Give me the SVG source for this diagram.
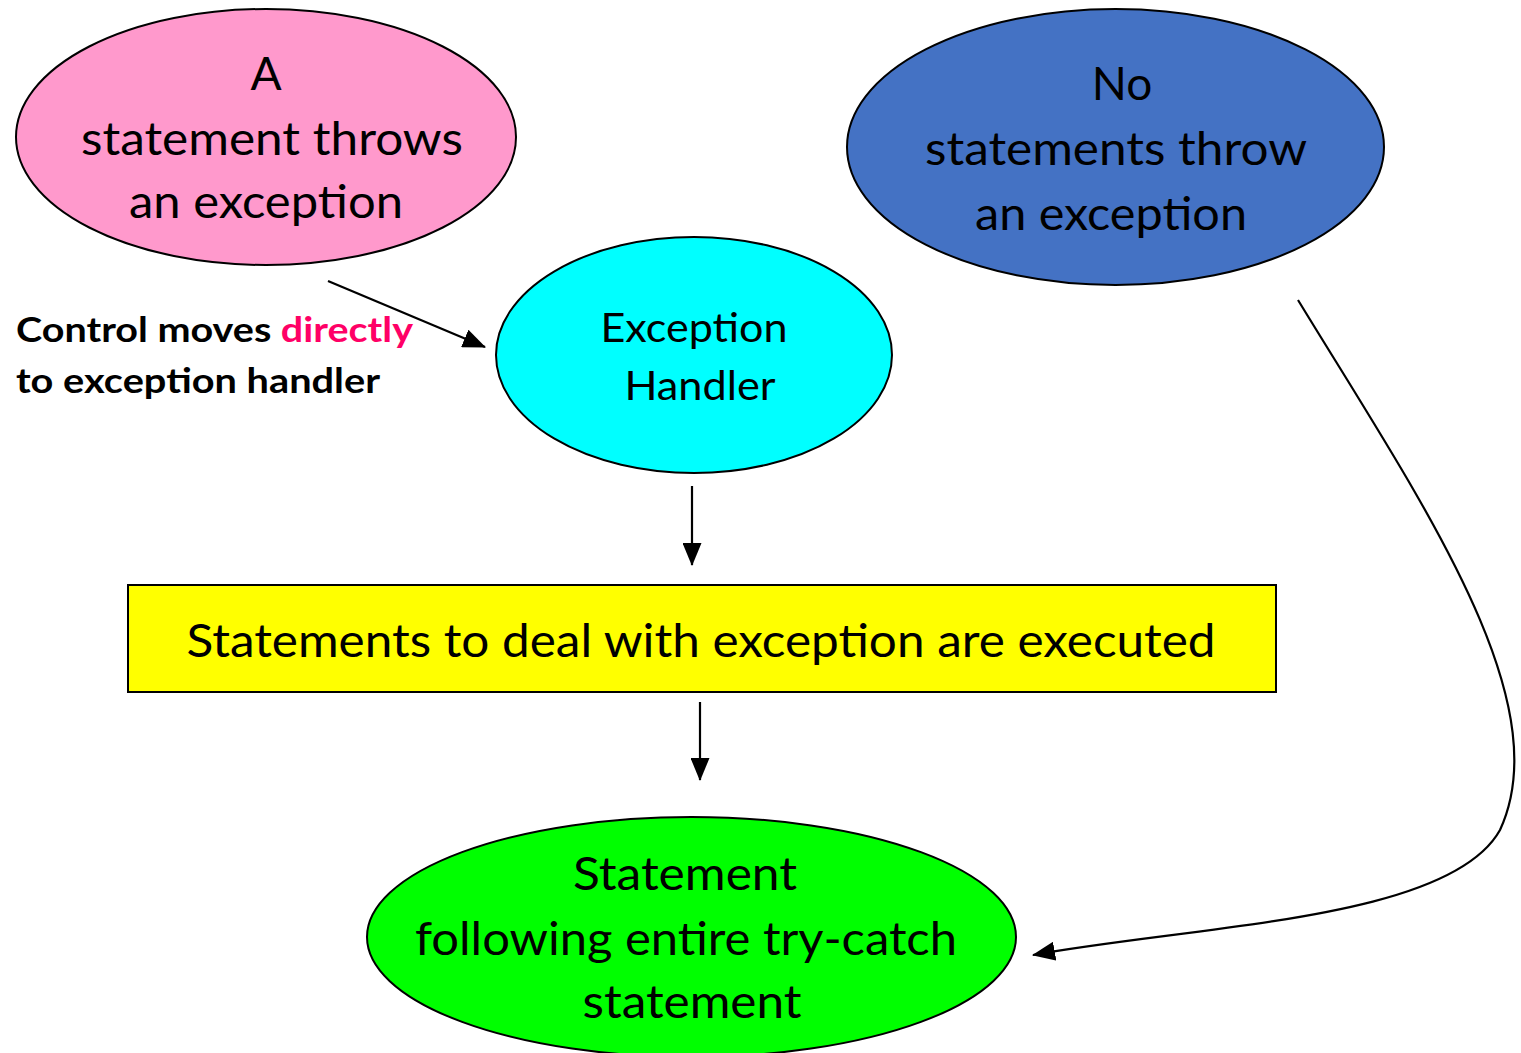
<svg xmlns="http://www.w3.org/2000/svg" width="1521" height="1053" viewBox="0 0 1521 1053">
<style>
.n{stroke:#000;stroke-width:2}
.t{font-family:Lato,"Open Sans","Liberation Sans",sans-serif;font-size:46px;fill:#000;text-anchor:middle}
.s{font-size:41px}
.b{font-family:Lato,"Open Sans","Liberation Sans",sans-serif;font-weight:bold;font-size:34px;fill:#000}
.c{fill:none;stroke:#000;stroke-width:2.2}
</style>
<defs>
<marker id="ah2" markerWidth="23" markerHeight="19" refX="22" refY="9.5" orient="auto" markerUnits="userSpaceOnUse" viewBox="0 0 23 19">
<path d="M0,0 L23,9.5 L0,19 z" fill="#000"/>
</marker>
</defs>
<rect width="1521" height="1053" fill="#fff"/>
<g id="throws">
<ellipse class="n" cx="266" cy="137" rx="250" ry="128" fill="#ff99cc"/>
<text class="t" x="266" y="90">A</text>
<text class="t" x="272" y="155" textLength="382" lengthAdjust="spacingAndGlyphs">statement throws</text>
<text class="t" x="266" y="218" textLength="274" lengthAdjust="spacingAndGlyphs">an exception</text>
</g>
<g id="nothrow">
<ellipse class="n" cx="1115.5" cy="147" rx="268.5" ry="138" fill="#4472c4"/>
<text class="t" x="1122" y="100">No</text>
<text class="t" x="1116" y="165" textLength="382" lengthAdjust="spacingAndGlyphs">statements throw</text>
<text class="t" x="1111" y="230" textLength="272" lengthAdjust="spacingAndGlyphs">an exception</text>
</g>
<g id="handler">
<ellipse class="n" cx="694" cy="355" rx="198" ry="118" fill="#00ffff"/>
<text class="t s" x="694" y="342" textLength="187" lengthAdjust="spacingAndGlyphs">Exception</text>
<text class="t s" x="700" y="400" textLength="151" lengthAdjust="spacingAndGlyphs">Handler</text>
</g>
<g id="deal">
<rect class="n" x="128" y="585" width="1148" height="107" fill="#ffff00"/>
<text class="t" x="701" y="657" textLength="1029" lengthAdjust="spacingAndGlyphs">Statements to deal with exception are executed</text>
</g>
<g id="following">
<ellipse class="n" cx="691.5" cy="937" rx="324.5" ry="120" fill="#00ff00"/>
<text class="t" x="685" y="890" textLength="224" lengthAdjust="spacingAndGlyphs">Statement</text>
<text class="t" x="686" y="955" textLength="542" lengthAdjust="spacingAndGlyphs">following entire try-catch</text>
<text class="t" x="692" y="1018" textLength="219" lengthAdjust="spacingAndGlyphs">statement</text>
</g>
<g id="label">
<text class="b" x="16" y="342" textLength="397" lengthAdjust="spacingAndGlyphs">Control moves <tspan fill="#ff0066">directly</tspan></text>
<text class="b" x="16" y="393" textLength="364" lengthAdjust="spacingAndGlyphs">to exception handler</text>
</g>
<g id="connectors">
<line class="c" x1="328" y1="281" x2="485" y2="347" marker-end="url(#ah2)"/>
<line class="c" x1="692" y1="486" x2="692" y2="565" marker-end="url(#ah2)"/>
<line class="c" x1="700" y1="702" x2="700" y2="780" marker-end="url(#ah2)"/>
<path class="c" d="M1298,300 C1420,500 1560,700 1500,830 C1450,920 1200,925 1033,955" marker-end="url(#ah2)"/>
</g>
</svg>
